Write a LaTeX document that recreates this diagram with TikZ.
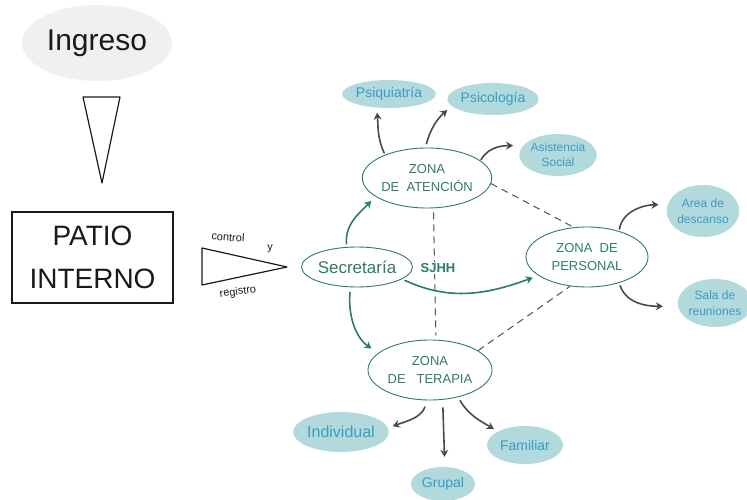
\documentclass[tikz,border=0pt]{standalone}
\usepackage{fontspec}
\setmainfont{Liberation Sans}
\usepackage{xcolor}
\usetikzlibrary{arrows.meta,shapes.geometric}
\definecolor{ink}{HTML}{1A1A1A}
\definecolor{gris}{HTML}{F0F0F0}
\definecolor{verde}{HTML}{2E7A6C}
\definecolor{flecha}{HTML}{4A4A4A}
\definecolor{burbuja}{HTML}{B2D9DB}
\definecolor{azul}{HTML}{3A9CC6}
\definecolor{raya}{HTML}{505050}
\tikzset{
  zona/.style={ellipse, draw=verde, line width=0.9pt, text=verde, inner sep=0pt, align=center, font=\fontsize{13}{18}\selectfont},
  burb/.style={ellipse, fill=burbuja, text=azul, inner sep=0pt, align=center, font=\fontsize{14}{16}\selectfont},
  gris/.style={draw=flecha, line width=1.6pt, line cap=round, -{Stealth[length=7pt,width=8pt]}},
  teal/.style={draw=verde, line width=1.6pt, line cap=round, -{Stealth[length=7pt,width=8pt]}},
  rayas/.style={draw=raya, line width=1pt, dash pattern=on 7pt off 5pt},
  lapiz/.style={draw=ink, line width=1.2pt, line join=round},
  nota/.style={text=ink, font=\fontsize{11}{12}\selectfont, inner sep=0pt},
}
\begin{document}
\begin{tikzpicture}[x=1pt, y=1pt]
  \useasboundingbox (0,0) rectangle (747,499);
  \node[ellipse, fill=gris, minimum width=150pt, minimum height=76pt, inner sep=0pt,
        text=ink, font=\fontsize{30}{32}\selectfont] (ingreso) at (97,456) {Ingreso};
  \draw[lapiz] (83,402) -- (120,402) -- (102,316) -- cycle;
  \node[draw=ink, line width=1.2pt, minimum width=161pt, minimum height=91pt, inner sep=0pt,
        text=ink, align=center, font=\fontsize{28}{43}\selectfont] (patio) at (92.5,241.5) {PATIO\\INTERNO};
  \draw[lapiz] (202,251) -- (287,232) -- (202,214) -- cycle;
  \node[nota, rotate=-4] (control) at (228,262) {control};
  \node[nota] (yy) at (270,250) {y};
  \node[nota, rotate=8] (registro) at (238,207) {registro};

  \node[zona, minimum width=105pt, minimum height=40pt, font=\fontsize{17}{20}\selectfont] (sec) at (357,232) {Secretaría};
  \node[zona, minimum width=123pt, minimum height=60pt] (aten) at (427,321) {ZONA\\DE\ \ ATENCIÓN};
  \node[zona, minimum width=122pt, minimum height=60pt] (per) at (587,242) {ZONA\ \ DE\\PERSONAL};
  \node[zona, minimum width=124pt, minimum height=60pt] (ter) at (430,129) {ZONA\\DE\ \ \ TERAPIA};

  \node[burb, minimum width=78pt, minimum height=28pt] (psiq) at (389,405) {Psiquiatría};
  \node[burb, minimum width=76pt, minimum height=32pt] (psic) at (493,400) {Psicología};
  \node[burb, minimum width=74pt, minimum height=42pt, font=\fontsize{12}{15}\selectfont] (asis) at (558,344) {Asistencia\\Social};
  \node[burb, minimum width=72pt, minimum height=52pt, font=\fontsize{12}{16}\selectfont] (area) at (703,288) {Area de\\descanso};
  \node[burb, minimum width=70pt, minimum height=48pt, font=\fontsize{12}{16}\selectfont] (sala) at (715,196) {Sala de\\reuniones};
  \node[burb, minimum width=92pt, minimum height=40pt, font=\fontsize{16}{18}\selectfont] (indiv) at (341,67) {Individual};
  \node[burb, minimum width=64pt, minimum height=34pt] (grup) at (443,15) {Grupal};
  \node[burb, minimum width=76pt, minimum height=38pt] (fam) at (525,54) {Familiar};

  \draw[rayas, shorten <=4pt, shorten >=4pt] (aten.282) -- (ter.79);
  \draw[rayas] (aten.355) -- (per.114);
  \draw[rayas] (ter.22) -- (per.240);
  \node[fill=white, text=verde, inner sep=1pt, font=\bfseries\fontsize{13}{15}\selectfont] (sjhh) at (438,231) {SJHH};

  \draw[teal, shorten <=3pt, shorten >=6pt] (sec.117) to[out=95, in=225] (aten.200);
  \draw[teal, shorten <=5pt, shorten >=8pt] (sec.252) to[out=265, in=145] (ter.162);
  \draw[teal, shorten <=3pt, shorten >=6pt] (sec.345) to[out=-25, in=200] (per.201);

  \draw[gris, shorten <=2pt, shorten >=5pt] (aten.151) to[out=115, in=275] (psiq.228);
  \draw[gris, shorten <=4pt, shorten >=6pt] (aten.93) to[out=75, in=220] (psic.190);
  \draw[gris, shorten <=1pt, shorten >=10pt] (aten.18) to[out=60, in=180] (asis.165);
  \draw[gris, shorten <=2pt, shorten >=9pt] (per.39) to[out=80, in=180] (area.170);
  \draw[gris, shorten <=3pt, shorten >=15pt] (per.321) to[out=-70, in=180] (sala.185);
  \draw[gris, shorten <=7pt, shorten >=5pt] (ter.265) to[out=250, in=20] (indiv.5);
  \draw[gris, shorten <=8pt, shorten >=10pt] (ter.293) -- (grup.84);
  \draw[gris, shorten <=4pt, shorten >=5pt] (ter.316) to[out=-60, in=150] (fam.153);
\end{tikzpicture}
\end{document}
